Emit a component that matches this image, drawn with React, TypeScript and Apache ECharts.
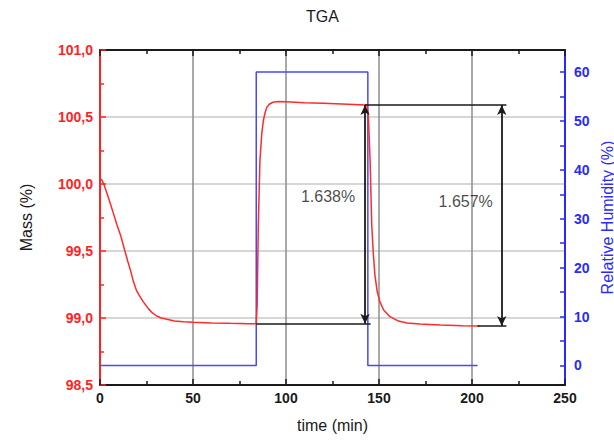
import React, { useEffect, useRef } from "react";
import * as echarts from "echarts";

const titleText = "TGA";
const xName = "time (min)";
const massName = "Mass (%)";
const rhName = "Relative Humidity (%)";

const massTime = [0, 1, 2, 3, 4, 5.4, 7, 9, 11, 13.4, 15, 16.5, 18, 19.5, 21, 23.3, 26, 28, 30.5, 33, 36, 40, 45, 50, 60, 70, 80, 84, 84.5, 85.1, 86, 87, 87.8, 88.7, 89.6, 91, 93, 96, 100, 110, 120, 130, 140, 143.5, 144.3, 145.2, 146.1, 147, 147.8, 149, 150.5, 152.5, 155.9, 160, 165, 172, 183, 195, 204];
const massValue = [100.04, 100.03, 100.0, 99.96, 99.92, 99.86, 99.79, 99.7, 99.62, 99.5, 99.42, 99.35, 99.27, 99.21, 99.17, 99.12, 99.07, 99.04, 99.015, 99.0, 98.99, 98.978, 98.972, 98.968, 98.963, 98.96, 98.958, 98.957, 99.1, 99.69, 100.18, 100.38, 100.47, 100.53, 100.57, 100.595, 100.61, 100.615, 100.613, 100.607, 100.602, 100.597, 100.592, 100.59, 100.5, 100.18, 99.69, 99.47, 99.32, 99.2, 99.12, 99.06, 99.01, 98.98, 98.963, 98.955, 98.947, 98.942, 98.94];

const rhTime = [0, 84, 84, 144, 144, 203];
const rhValue = [0, 0, 60, 60, 0, 0];

const xTicks = [0, 50, 100, 150, 200, 250];
const massTicks = [98.5, 99.0, 99.5, 100.0, 100.5, 101.0];
const rhTicks = [0, 10, 20, 30, 40, 50, 60];
const rhMinorTicks = [0, 5, 10, 15, 20, 25, 30, 35, 40, 45, 50, 55, 60];

// annotation geometry in data units
const lowLevel1 = 98.958;
const highLevel = 100.59;
const lowLevel2 = 98.94;
const arrow1X = 142.5;
const arrow2X = 216;
const low1Span = [84, 145.5];
const highSpan = [142.5, 218.5];
const low2Span = [203, 218.5];
const annLabels = ["1.638%", "1.657%"];
const annLabelPos = [
  [122.6, 99.905],
  [196.6, 99.87],
];

const FONT = "Liberation Sans, Arial, sans-serif";
const RED = "#ff2424";
const BLUE = "#2a2aff";
const INK = "#1a1a1a";

export default function App() {
  const ref = useRef<HTMLDivElement>(null);
  useEffect(() => {
    document.body.style.margin = "0";
    const chart = echarts.init(ref.current!, null, { renderer: "svg" });
    const option: any = {
      animation: false,
      backgroundColor: "#ffffff",
      title: {
        text: titleText,
        left: 306,
        top: 8,
        padding: 0,
        textStyle: { fontFamily: FONT, fontSize: 16, fontWeight: "normal", color: INK },
      },
      grid: { left: 100, right: 49, top: 50, bottom: 60, outerBoundsMode: "none" },
      xAxis: [
        {
          type: "value",
          min: xTicks[0],
          max: xTicks[xTicks.length - 1],
          interval: 50,
          name: xName,
          nameLocation: "middle",
          nameGap: 32,
          nameTextStyle: { fontFamily: FONT, fontSize: 16, color: INK },
          axisLine: { show: true, onZero: false, lineStyle: { color: INK, width: 2 } },
          axisTick: { show: true, inside: true, length: 6, lineStyle: { color: INK, width: 1.5 } },
          minorTick: { show: true, splitNumber: 2, length: 4, lineStyle: { color: INK, width: 1.5 } },
          axisLabel: { fontFamily: FONT, fontSize: 14, fontWeight: "bold", color: INK, margin: 6 },
          splitLine: { show: true, lineStyle: { color: "#8c8c8c", width: 1.5 } },
        },
        {
          type: "value",
          position: "top",
          min: xTicks[0],
          max: xTicks[xTicks.length - 1],
          interval: 50,
          axisLine: { show: true, onZero: false, lineStyle: { color: INK, width: 2 } },
          axisTick: { show: true, inside: true, length: 6, lineStyle: { color: INK, width: 1.5 } },
          minorTick: { show: true, splitNumber: 2, length: 4, lineStyle: { color: INK, width: 1.5 } },
          axisLabel: { show: false },
          splitLine: { show: false },
        },
      ],
      yAxis: [
        {
          type: "value",
          min: massTicks[0],
          max: massTicks[massTicks.length - 1],
          interval: 0.5,
          name: massName,
          nameLocation: "middle",
          nameGap: 66,
          nameTextStyle: { fontFamily: FONT, fontSize: 16, color: INK },
          axisLine: { show: true, onZero: false, lineStyle: { color: RED, width: 2 } },
          axisTick: { show: true, inside: true, length: 6, lineStyle: { color: RED, width: 1.5 } },
          minorTick: { show: true, splitNumber: 2, length: 4, lineStyle: { color: RED, width: 1.5 } },
          axisLabel: {
            fontFamily: FONT,
            fontSize: 14,
            fontWeight: "bold",
            color: RED,
            margin: 7,
            formatter: (v: number) => v.toFixed(1).replace(".", ","),
          },
          splitLine: { show: true, lineStyle: { color: "#c8c8c8", width: 1.5 } },
        },
        {
          type: "value",
          position: "right",
          min: -4,
          max: 64.5,
          name: rhName,
          nameLocation: "middle",
          nameGap: 34,
          nameMoveOverlap: false,
          nameRotate: 90,
          nameTextStyle: { fontFamily: FONT, fontSize: 16, color: BLUE },
          axisLine: { show: true, onZero: false, lineStyle: { color: BLUE, width: 2 } },
          axisTick: {
            show: true,
            inside: true,
            length: 5,
            customValues: rhMinorTicks,
            lineStyle: { color: BLUE, width: 1.5 },
          },
          axisLabel: {
            fontFamily: FONT,
            fontSize: 14,
            fontWeight: "bold",
            color: BLUE,
            margin: 9,
            customValues: rhTicks,
          },
          splitLine: { show: false },
        },
      ],
      series: [
        {
          name: "RH",
          type: "line",
          xAxisIndex: 0,
          yAxisIndex: 1,
          showSymbol: false,
          symbol: "none",
          data: rhTime.map((t, i) => [t, rhValue[i]]),
          lineStyle: { color: "#4848ff", width: 1.5 },
          z: 2,
        },
        {
          name: "Mass",
          type: "line",
          xAxisIndex: 0,
          yAxisIndex: 0,
          showSymbol: false,
          symbol: "none",
          smooth: false,
          data: massTime.map((t, i) => [t, massValue[i]]),
          lineStyle: { color: "#ff2a2a", width: 1.5 },
          z: 3,
        },
        {
          name: "levels",
          type: "line",
          xAxisIndex: 0,
          yAxisIndex: 0,
          data: [],
          markLine: {
            silent: true,
            symbol: ["none", "none"],
            label: { show: false },
            lineStyle: { color: INK, width: 1.5, type: "solid" },
            data: [
              [{ coord: [low1Span[0], lowLevel1] }, { coord: [low1Span[1], lowLevel1] }],
              [{ coord: [highSpan[0], highLevel] }, { coord: [highSpan[1], highLevel] }],
              [{ coord: [low2Span[0], lowLevel2] }, { coord: [low2Span[1], lowLevel2] }],
            ],
          },
          z: 4,
        },
        {
          name: "arrows",
          type: "line",
          xAxisIndex: 0,
          yAxisIndex: 0,
          data: [],
          markLine: {
            silent: true,
            symbol: ["arrow", "arrow"],
            symbolSize: [7, 10],
            label: { show: false },
            lineStyle: { color: INK, width: 1.8, type: "solid" },
            data: [
              [{ coord: [arrow1X, highLevel] }, { coord: [arrow1X, lowLevel1] }],
              [{ coord: [arrow2X, highLevel] }, { coord: [arrow2X, lowLevel2] }],
            ],
          },
          z: 4,
        },
        {
          name: "labels",
          type: "scatter",
          xAxisIndex: 0,
          yAxisIndex: 0,
          symbolSize: 1,
          itemStyle: { color: "rgba(0,0,0,0)" },
          silent: true,
          data: annLabelPos.map((p, i) => ({ value: p, name: annLabels[i] })),
          label: {
            show: true,
            position: "inside",
            formatter: (p: any) => p.name,
            fontFamily: FONT,
            fontSize: 16,
            color: INK,
          },
          z: 5,
        },
      ],
    };
    chart.setOption(option);
    return () => chart.dispose();
  }, []);
  return <div ref={ref} style={{ width: 614, height: 445 }} />;
}
